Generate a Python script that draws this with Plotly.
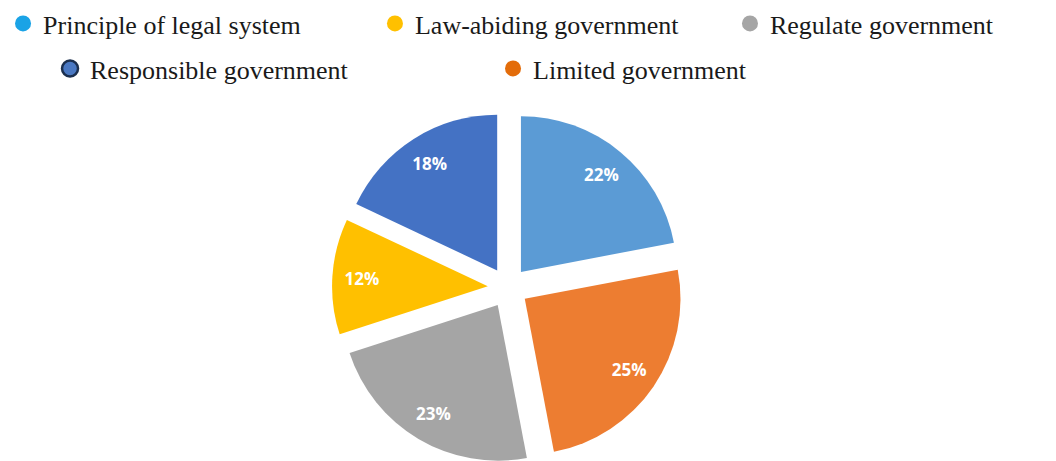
import plotly.graph_objects as go

# Slice data (clockwise from 12 o'clock)
labels = ["Principle of legal system", "Limited government", "Regulate government",
          "Law-abiding government", "Responsible government"]
values = [22, 25, 23, 12, 18]
slice_colors = ["#5B9BD5", "#ED7D31", "#A5A5A5", "#FFC000", "#4472C4"]

# Legend entries (order as shown at top)
legend_labels = ["Principle of legal system", "Law-abiding government", "Regulate government",
                 "Responsible government", "Limited government"]
legend_colors = ["#1AA3E6", "#FFC000", "#A5A5A5", "#4A78C2", "#E36C0A"]
legend_borders = ["#1AA3E6", "#FFC000", "#A5A5A5", "#1B2F4E", "#E36C0A"]

PULL = 0.13
DOMAIN = dict(x=[0.3068, 0.6402], y=[0.012, 0.7755])

fig = go.Figure()

# main pie (slices)
fig.add_trace(go.Pie(
    labels=labels, values=values, sort=False, direction="clockwise", rotation=0,
    marker=dict(colors=slice_colors, line=dict(width=0)),
    pull=[PULL] * len(values), textinfo="none", showlegend=False,
    domain=DOMAIN, hoverinfo="label+percent",
))

# overlay ring carrying the percentage labels toward the outer part of each slice
fig.add_trace(go.Pie(
    labels=labels, values=values, sort=False, direction="clockwise", rotation=0,
    hole=0.62,
    marker=dict(colors=["rgba(0,0,0,0)"] * len(values), line=dict(width=0)),
    pull=[PULL] * len(values), textinfo="percent", textposition="inside",
    insidetextorientation="horizontal",
    textfont=dict(family="Open Sans", size=17, color="white", weight="bold"),
    showlegend=False, domain=DOMAIN, hoverinfo="skip",
))

# legend entries
legend_pos = [(-0.0047, 1.0174), (0.3475, 1.0174), (0.6837, 1.0174), (0.0398, 0.9197), (0.4593, 0.9197)]
for i, (name, col, bcol) in enumerate(zip(legend_labels, legend_colors, legend_borders)):
    key = "legend" if i == 0 else f"legend{i+1}"
    fig.add_trace(go.Scatter(
        x=[None], y=[None], mode="markers", name=name,
        marker=dict(size=16, color=col, line=dict(color=bcol, width=2.5 if i == 3 else 0)),
        legend=key, showlegend=True,
    ))

layout_legends = {}
for i, (lx, ly) in enumerate(legend_pos):
    key = "legend" if i == 0 else f"legend{i+1}"
    layout_legends[key] = dict(
        x=lx, y=ly, xanchor="left", yanchor="top", orientation="h",
        bgcolor="rgba(0,0,0,0)", borderwidth=0,
        font=dict(family="Liberation Serif", size=26, color="#1a1a1a"),
        itemwidth=30,
    )

fig.update_layout(
    width=1056, height=461,
    margin=dict(l=0, r=0, t=0, b=0, autoexpand=False),
    paper_bgcolor="white", plot_bgcolor="white",
    xaxis=dict(visible=False), yaxis=dict(visible=False),
    **layout_legends,
)

fig.write_html("out.html")
